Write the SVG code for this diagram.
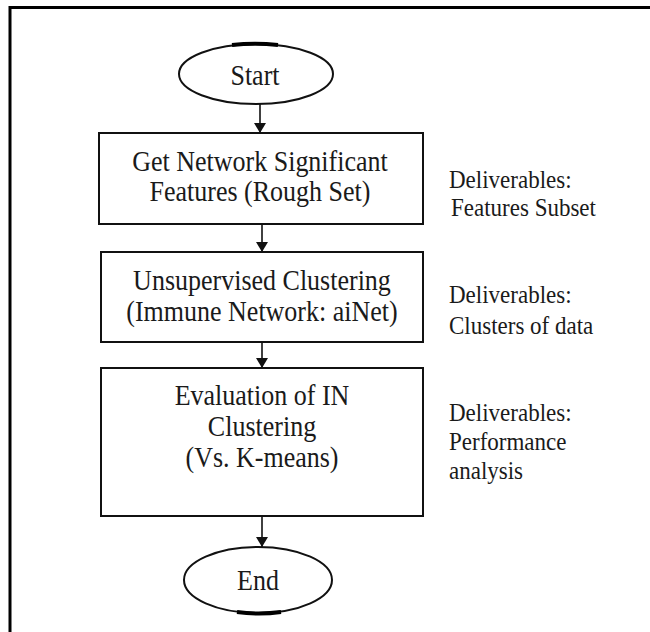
<svg xmlns="http://www.w3.org/2000/svg" width="650" height="632" viewBox="0 0 650 632">
<defs>
<style>
.frame{stroke:#000;stroke-width:3;fill:none}
.node{fill:#fff;stroke:#111;stroke-width:2}
.t{font-size:26px;fill:#1a1a1a;text-anchor:middle}
.d{font-size:23px;fill:#1a1a1a}
.conn{stroke:#111;stroke-width:1.6;fill:none}
</style>
<marker id="ah" viewBox="0 0 10 12" refX="10" refY="6" markerWidth="10" markerHeight="12" markerUnits="userSpaceOnUse" orient="auto">
<path d="M0,0 L10,6 L0,12 Z" fill="#111"/>
</marker>
</defs>
<rect width="650" height="632" fill="#fff"/>
<path class="frame" d="M10,632 L10,7.5 L650,7.5"/>
<g font-family="Liberation Serif, Times New Roman, DejaVu Serif, serif">
<g id="start">
<ellipse class="node" cx="256" cy="74" rx="77" ry="30"/>
<path d="M232,45 Q255,42.5 278,45" stroke="#000" stroke-width="4" fill="none"/>
<text class="t" x="255" y="85" transform="translate(0,85) scale(1,1.13) translate(0,-85)">Start</text>
</g>
<g id="step1">
<rect class="node" x="99" y="133" width="324" height="91"/>
<text class="t" x="260" y="171" transform="translate(0,171) scale(1,1.13) translate(0,-171)">Get Network Significant</text>
<text class="t" x="260" y="201" transform="translate(0,201) scale(1,1.13) translate(0,-201)">Features (Rough Set)</text>
</g>
<g id="deliv1">
<text class="d" x="449" y="188" transform="translate(0,188) scale(1,1.13) translate(0,-188)">Deliverables:</text>
<text class="d" x="451" y="216" transform="translate(0,216) scale(1,1.13) translate(0,-216)">Features Subset</text>
</g>
<g id="step2">
<rect class="node" x="101" y="252" width="322" height="90"/>
<text class="t" x="262" y="290" transform="translate(0,290) scale(1,1.13) translate(0,-290)">Unsupervised Clustering</text>
<text class="t" x="262" y="321" transform="translate(0,321) scale(1,1.13) translate(0,-321)">(Immune Network: aiNet)</text>
</g>
<g id="deliv2">
<text class="d" x="449" y="303" transform="translate(0,303) scale(1,1.13) translate(0,-303)">Deliverables:</text>
<text class="d" x="449" y="334" transform="translate(0,334) scale(1,1.13) translate(0,-334)">Clusters of data</text>
</g>
<g id="step3">
<rect class="node" x="101" y="368" width="322" height="148"/>
<text class="t" x="262" y="405" transform="translate(0,405) scale(1,1.13) translate(0,-405)">Evaluation of IN</text>
<text class="t" x="262" y="436" transform="translate(0,436) scale(1,1.13) translate(0,-436)">Clustering</text>
<text class="t" x="262" y="467" transform="translate(0,467) scale(1,1.13) translate(0,-467)">(Vs. K-means)</text>
</g>
<g id="deliv3">
<text class="d" x="449" y="421" transform="translate(0,421) scale(1,1.13) translate(0,-421)">Deliverables:</text>
<text class="d" x="449" y="450" transform="translate(0,450) scale(1,1.13) translate(0,-450)">Performance</text>
<text class="d" x="449" y="479" transform="translate(0,479) scale(1,1.13) translate(0,-479)">analysis</text>
</g>
<g id="end">
<ellipse class="node" cx="258" cy="580" rx="74" ry="33"/>
<path d="M237,612 Q259,615 281,612" stroke="#000" stroke-width="4" fill="none"/>
<text class="t" x="258" y="590" transform="translate(0,590) scale(1,1.13) translate(0,-590)">End</text>
</g>
</g>
<g id="connectors">
<line class="conn" x1="260" y1="104" x2="260" y2="133" marker-end="url(#ah)"/>
<line class="conn" x1="262" y1="224" x2="262" y2="252" marker-end="url(#ah)"/>
<line class="conn" x1="262" y1="342" x2="262" y2="368" marker-end="url(#ah)"/>
<line class="conn" x1="262" y1="516" x2="262" y2="547" marker-end="url(#ah)"/>
</g>
</svg>
